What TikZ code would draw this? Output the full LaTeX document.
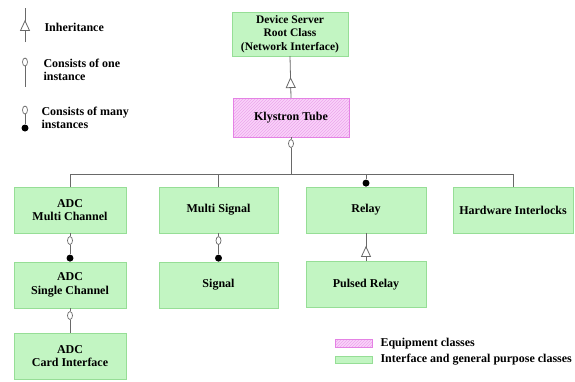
\documentclass[tikz,border=0pt]{standalone}
\usepackage{fontspec}
\setmainfont{Liberation Serif}
\usepackage{tikz}
\usetikzlibrary{arrows.meta}
\usetikzlibrary{decorations.markings}
\usetikzlibrary{patterns}
\usetikzlibrary{shapes.geometric}
\definecolor{cgreen}{RGB}{194,245,194}
\definecolor{cgreenl}{RGB}{150,222,150}
\definecolor{cpink}{RGB}{250,210,250}
\definecolor{cpinkl}{RGB}{228,130,228}
\definecolor{cline}{RGB}{105,105,105}
\tikzset{gpc/.style = {draw = cgreenl, fill = cgreen, align = center,
    minimum width = 112, minimum height = 46, inner sep = 2}}
\tikzset{equip/.style = {draw = cpinkl, preaction = {fill = cpink},
    pattern = north east lines, pattern color = cpinkl!70, align = center,
    minimum width = 116, minimum height = 39}}
\tikzset{conn/.style = {draw = cline, line width = 0.8}}
\tikzset{onei/.style = {ellipse, draw = cline, fill = white, line width = 0.7,
    inner sep = 0, minimum width = 5, minimum height = 8}}
\tikzset{manyi/.style = {circle, fill = black, inner sep = 0, minimum size = 7}}
\tikzset{inh/.style = {postaction = {decorate}, decoration = {markings,
    mark = at position #1 with {\arrow{Triangle[length = 11, width = 10, fill = white]}}}}}

\begin{document}
\begin{tikzpicture}[x=1pt, y=-1pt, font=\fontsize{12}{13.5}\selectfont\bfseries]
      \useasboundingbox [fill=white] (0, 0) rectangle (575, 381);

      % legend, top left
      \coordinate (li1) at (25, 8);
      \coordinate (li2) at (25, 42);
      \draw [conn, inh=0.65] (li2) -- (li1);
      \node [anchor=west] (lit) at (41, 27) {Inheritance};

      \node [onei] (lo1) at (25, 62) {};
      \coordinate (lo2) at (25, 87);
      \draw [conn] (lo1) -- (lo2);
      \node [anchor=west, align=left] (lot) at (40, 70) {Consists of one\\instance};

      \node [onei] (lm1) at (25, 110) {};
      \node [manyi] (lm2) at (25, 128) {};
      \draw [conn] (lm1) -- (lm2);
      \node [anchor=west, align=left] (lmt) at (38, 118) {Consists of many\\instances};

      % classes
      \node [gpc, minimum width=116, minimum height=44, font=\fontsize{11.5}{13.5}\selectfont\bfseries] (dsrc) at (290, 34)
        {Device Server\\Root Class\\(Network Interface)};
      \node [equip] (klys) at (291, 117.5) {Klystron Tube};

      \node [gpc] (adcmc) at (70, 210) {ADC\\Multi Channel};
      \node [gpc, minimum width=119] (msig) at (218.5, 210) {Multi Signal};
      \node [gpc, minimum width=120] (relay) at (366, 210) {Relay};
      \node [gpc, minimum width=120] (hwil) at (513, 210) {Hardware Interlocks};

      \node [gpc] (adcsc) at (70, 285) {ADC\\Single Channel};
      \node [gpc, minimum width=119] (sig) at (218.5, 285) {Signal};
      \node [gpc, minimum width=120] (prelay) at (366, 284.5) {Pulsed Relay};

      \node [gpc] (adcci) at (70, 356) {ADC\\Card Interface};

      % connectors
      \draw [conn, inh=0.5] (klys.north) -- (dsrc.south);

      \coordinate (busl) at (70, 174);
      \coordinate (busr) at (513, 174);
      \draw [conn] (busl) -- (busr);
      \node [onei, anchor=north] (k1) at ([yshift=-2]klys.south) {};
      \draw [conn] (klys.south) -- (k1);
      \draw [conn] (k1) -- (k1 |- busl);
      \draw [conn] (adcmc.north) -- (adcmc.north |- busl);
      \draw [conn] (msig.north) -- (msig.north |- busl);
      \draw [conn] (hwil.north) -- (hwil.north |- busl);
      \node [manyi, anchor=south] (r1) at (relay.north) {};
      \draw [conn] (r1) -- (r1 |- busl);

      \node [onei, anchor=north] (a1) at ([yshift=-3]adcmc.south) {};
      \node [manyi, anchor=south] (a2) at (adcsc.north) {};
      \draw [conn] (adcmc.south) -- (a1);
      \draw [conn] (a1) -- (a2);

      \node [onei, anchor=north] (a3) at ([yshift=-3]adcsc.south) {};
      \draw [conn] (adcsc.south) -- (a3);
      \draw [conn] (a3) -- (adcci.north);

      \node [onei, anchor=north] (s1) at ([yshift=-3]msig.south) {};
      \node [manyi, anchor=south] (s2) at (sig.north) {};
      \draw [conn] (msig.south) -- (s1);
      \draw [conn] (s1) -- (s2);

      \draw [conn, inh=0.55] (prelay.north) -- (relay.south);

      % legend, bottom right
      \node [equip, minimum width=37, minimum height=8, inner sep=0] (sweq) at (353.5, 343.5) {};
      \node [anchor=west] (tweq) at (377, 343.5) {Equipment classes};
      \node [gpc, minimum width=37, minimum height=7, inner sep=0] (swgp) at (353.5, 360) {};
      \node [anchor=west] (twgp) at (377, 360) {Interface and general purpose classes};
    \end{tikzpicture}
\end{document}
